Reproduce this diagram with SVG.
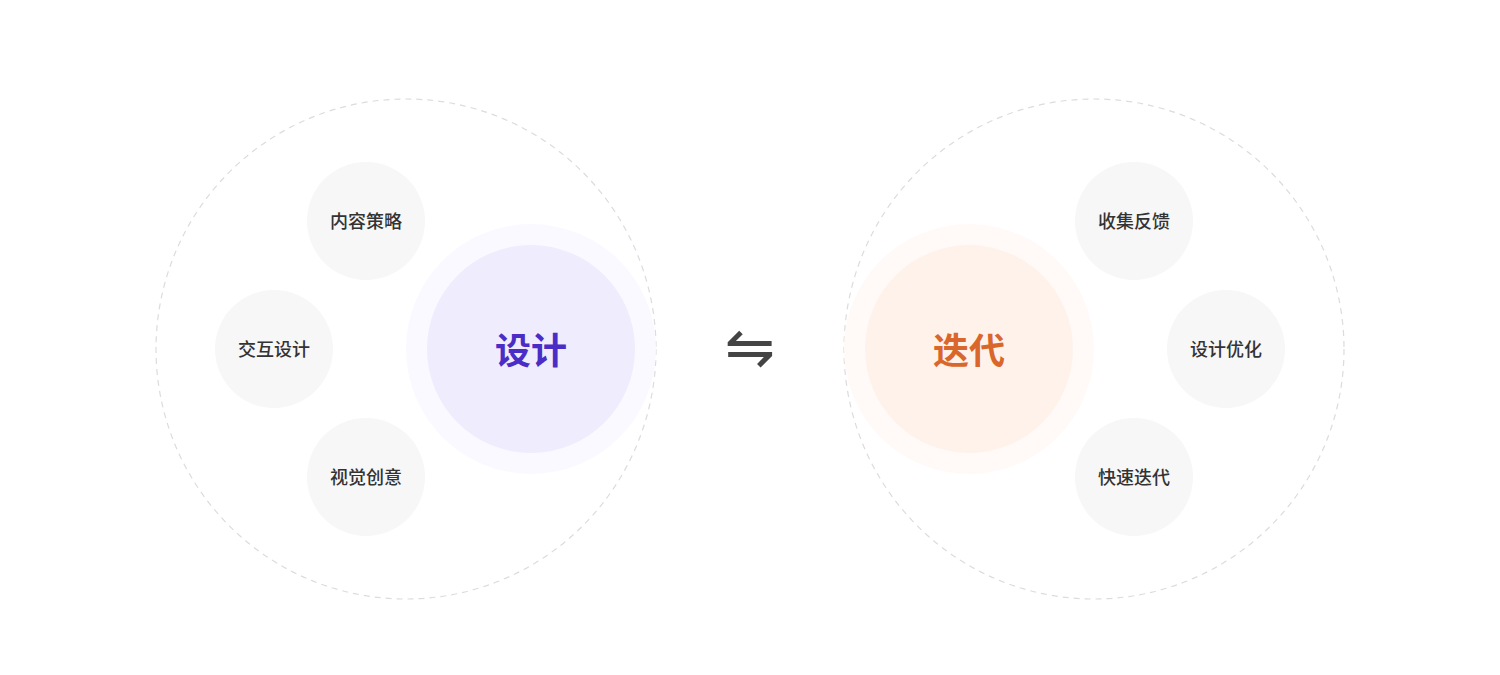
<svg xmlns="http://www.w3.org/2000/svg" width="1500" height="675" viewBox="0 0 1500 675">
<style>
.ring{fill:none;stroke:#DCDCDC;stroke-width:1.2;stroke-dasharray:6 5}
.node{fill:#F7F7F7}
.lbl{font-family:"Noto Sans CJK SC","Noto Sans",sans-serif;font-size:18px;font-weight:500;fill:#333333;text-anchor:middle;dominant-baseline:central}
.big{font-family:"Noto Sans CJK SC","Noto Sans",sans-serif;font-size:36px;font-weight:700;text-anchor:middle;dominant-baseline:central}
</style>
<rect width="1500" height="675" fill="#FFFFFF"/>
<g id="design-group">
  <circle class="ring" cx="406" cy="349" r="250"/>
</g>
<g id="design">
  <circle cx="531" cy="349" r="125" fill="#FAF9FF"/>
  <circle cx="531" cy="349" r="104" fill="#EFECFD"/>
  <text class="big" x="531" y="348" fill="#4A2DC6">设计</text>
</g>
<g id="node-content"><circle class="node" cx="366" cy="221" r="59"/><text class="lbl" x="366" y="220">内容策略</text></g>
<g id="node-interaction"><circle class="node" cx="274" cy="349" r="59"/><text class="lbl" x="274" y="348">交互设计</text></g>
<g id="node-visual"><circle class="node" cx="366" cy="477" r="59"/><text class="lbl" x="366" y="476">视觉创意</text></g>
<g id="iterate-group">
  <circle class="ring" cx="1094" cy="349" r="250"/>
</g>
<g id="iterate">
  <circle cx="969" cy="349" r="125" fill="#FFFAF7"/>
  <circle cx="969" cy="349" r="104" fill="#FEF2EB"/>
  <text class="big" x="969" y="348" fill="#D9662B">迭代</text>
</g>
<g id="node-feedback"><circle class="node" cx="1134" cy="221" r="59"/><text class="lbl" x="1134" y="220">收集反馈</text></g>
<g id="node-optimize"><circle class="node" cx="1226" cy="349" r="59"/><text class="lbl" x="1226" y="348">设计优化</text></g>
<g id="node-fast"><circle class="node" cx="1134" cy="477" r="59"/><text class="lbl" x="1134" y="476">快速迭代</text></g>
<g id="connectors">
  <text x="750" y="347" font-family="DejaVu Sans,sans-serif" font-size="60" font-weight="400" fill="#444444" text-anchor="middle" dominant-baseline="central">⇋</text>
</g>
</svg>
